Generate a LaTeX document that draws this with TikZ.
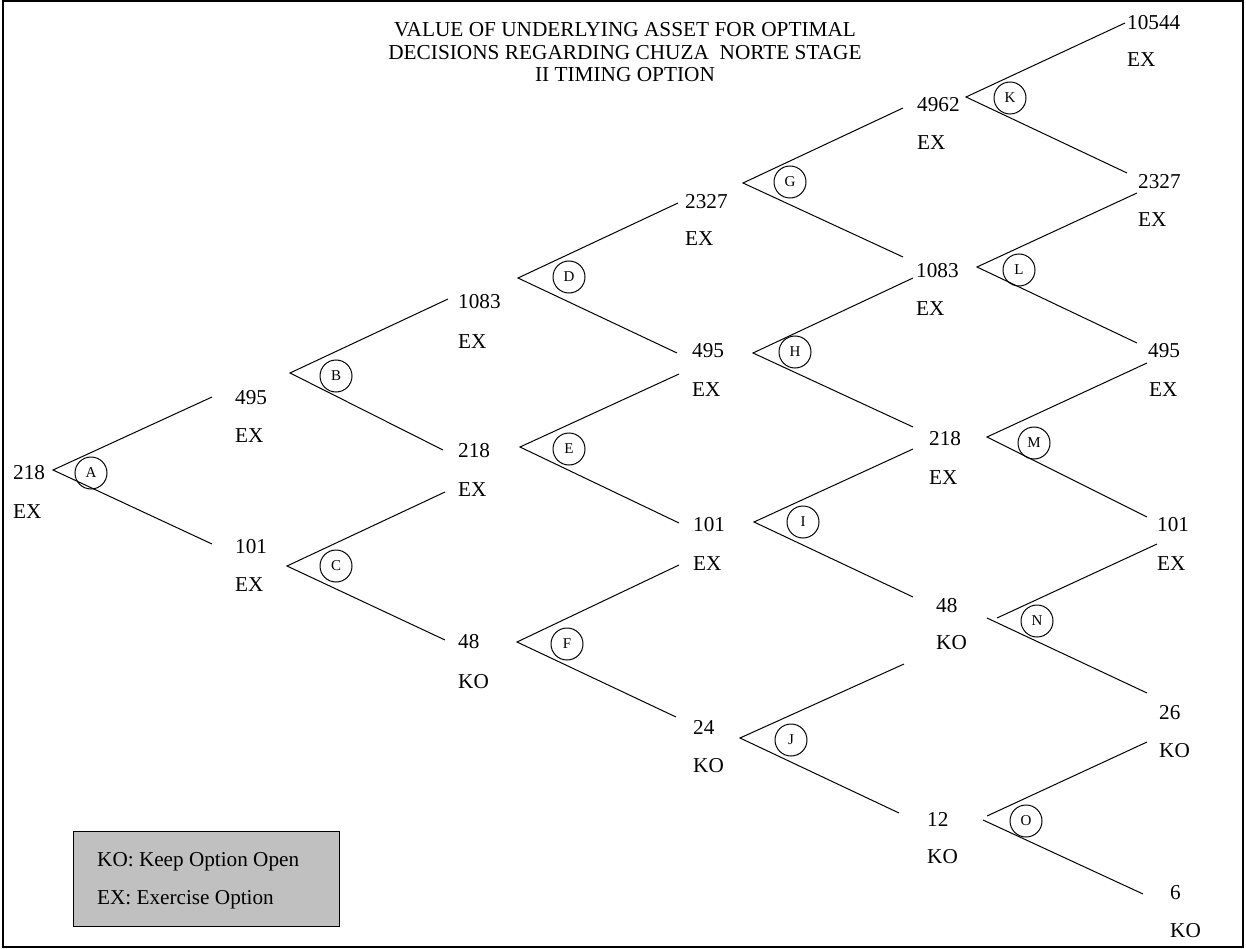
\documentclass[tikz,border=0pt]{standalone}
\usepackage{fontspec}
\setmainfont{Liberation Serif}
\definecolor{legendgray}{RGB}{192,192,192}
\tikzset{
  val/.style={anchor=west, inner sep=0pt, font=\fontsize{21.2}{24}\selectfont},
  br/.style={line width=1pt, draw=black},
  lett/.style={circle, draw, line width=1pt, minimum size=32pt, inner sep=0pt, font=\fontsize{15}{17}\selectfont},
}
\begin{document}
\begin{tikzpicture}[x=1pt,y=-1pt]
\useasboundingbox (0,0) rectangle (1246,949);
\draw[line width=1.2pt] (3,1) rectangle (1243,947);

% title
\node[inner sep=0pt, align=center, font=\fontsize{21.3}{22.5}\selectfont] (title) at (625,52.5)
  {VALUE OF UNDERLYING ASSET FOR OPTIMAL\\DECISIONS REGARDING CHUZA\ \ NORTE STAGE\\II TIMING OPTION};

% value labels
\node[val] (v0)  at (13,473) {218};   \node[val] (d0)  at (13,512) {EX};
\node[val] (v1a) at (235,398) {495};  \node[val] (d1a) at (235,436) {EX};
\node[val] (v1b) at (235,547) {101};  \node[val] (d1b) at (235,585) {EX};
\node[val] (v2a) at (458,302) {1083}; \node[val] (d2a) at (458,342) {EX};
\node[val] (v2b) at (458,451) {218};  \node[val] (d2b) at (458,490) {EX};
\node[val] (v2c) at (458,642) {48};   \node[val] (d2c) at (458,682) {KO};
\node[val] (v3a) at (685,202) {2327}; \node[val] (d3a) at (685,239) {EX};
\node[val] (v3b) at (692,351) {495};  \node[val] (d3b) at (692,390) {EX};
\node[val] (v3c) at (693,525) {101};  \node[val] (d3c) at (693,564) {EX};
\node[val] (v3d) at (693,727) {24};   \node[val] (d3d) at (693,766) {KO};
\node[val] (v4a) at (917,105) {4962}; \node[val] (d4a) at (917,143) {EX};
\node[val] (v4b) at (916,271) {1083}; \node[val] (d4b) at (916,309) {EX};
\node[val] (v4c) at (929,439) {218};  \node[val] (d4c) at (929,478) {EX};
\node[val] (v4d) at (936,606) {48};   \node[val] (d4d) at (936,643) {KO};
\node[val] (v4e) at (927,819) {12};   \node[val] (d4e) at (927,857) {KO};
\node[val] (v5a) at (1127,23) {10544};\node[val] (d5a) at (1127,60) {EX};
\node[val] (v5b) at (1138,182) {2327};\node[val] (d5b) at (1138,220) {EX};
\node[val] (v5c) at (1148,351) {495}; \node[val] (d5c) at (1149,390) {EX};
\node[val] (v5d) at (1157,525) {101}; \node[val] (d5d) at (1157,564) {EX};
\node[val] (v5e) at (1159,713) {26};  \node[val] (d5e) at (1159,751) {KO};
\node[val] (v5f) at (1170,893) {6};   \node[val] (d5f) at (1170,931) {KO};

% branch coordinates: apex, upper end, lower end
\coordinate (Aa) at (53,470);  \coordinate (Au) at (212,397);  \coordinate (Al) at (212,544);
\coordinate (Ba) at (290,373); \coordinate (Bu) at (448,299);  \coordinate (Bl) at (443,450);
\coordinate (Ca) at (287,566); \coordinate (Cu) at (445,492);  \coordinate (Cl) at (445,640);
\coordinate (Da) at (518,278); \coordinate (Du) at (678,203);  \coordinate (Dl) at (677,353);
\coordinate (Ea) at (520,447); \coordinate (Eu) at (679,374);  \coordinate (El) at (679,523);
\coordinate (Fa) at (517,642); \coordinate (Fu) at (679,565);  \coordinate (Fl) at (676,717);
\coordinate (Ga) at (743,183); \coordinate (Gu) at (903,108);  \coordinate (Gl) at (903,257);
\coordinate (Ha) at (753,353); \coordinate (Hu) at (913,278);  \coordinate (Hl) at (913,427);
\coordinate (Ia) at (754,522); \coordinate (Iu) at (913,449);  \coordinate (Il) at (913,597);
\coordinate (Ja) at (740,738); \coordinate (Ju) at (904,664);  \coordinate (Jl) at (899,813);
\coordinate (Ka) at (966,97);  \coordinate (Ku) at (1125,23);  \coordinate (Kl) at (1127,173);
\coordinate (La) at (977,267); \coordinate (Lu) at (1137,193); \coordinate (Ll) at (1137,343);
\coordinate (Ma) at (987,437); \coordinate (Mu) at (1147,363); \coordinate (Ml) at (1147,517);
\coordinate (Nau) at (997,618); \coordinate (Nal) at (987,618);
\coordinate (Nu) at (1157,544); \coordinate (Nl) at (1147,693);
\coordinate (Oau) at (987,816); \coordinate (Oal) at (983,820);
\coordinate (Ou) at (1147,742); \coordinate (Ol) at (1143,894);

\draw[br] (Au) -- (Aa) -- (Al);
\draw[br] (Bu) -- (Ba) -- (Bl);
\draw[br] (Cu) -- (Ca) -- (Cl);
\draw[br] (Du) -- (Da) -- (Dl);
\draw[br] (Eu) -- (Ea) -- (El);
\draw[br] (Fu) -- (Fa) -- (Fl);
\draw[br] (Gu) -- (Ga) -- (Gl);
\draw[br] (Hu) -- (Ha) -- (Hl);
\draw[br] (Iu) -- (Ia) -- (Il);
\draw[br] (Ju) -- (Ja) -- (Jl);
\draw[br] (Ku) -- (Ka) -- (Kl);
\draw[br] (Lu) -- (La) -- (Ll);
\draw[br] (Mu) -- (Ma) -- (Ml);
\draw[br] (Nau) -- (Nu);
\draw[br] (Nal) -- (Nl);
\draw[br] (Oau) -- (Ou);
\draw[br] (Oal) -- (Ol);

% decision letters
\node[lett] (cA) at (91,473) {A};
\node[lett] (cB) at (336,376) {B};
\node[lett] (cC) at (336,566) {C};
\node[lett] (cD) at (569,277) {D};
\node[lett] (cE) at (569,449) {E};
\node[lett] (cF) at (567,644) {F};
\node[lett] (cG) at (790,182) {G};
\node[lett] (cH) at (795,352) {H};
\node[lett] (cI) at (803,522) {I};
\node[lett] (cJ) at (791,740) {J};
\node[lett] (cK) at (1010,98) {K};
\node[lett] (cL) at (1019,270) {L};
\node[lett] (cM) at (1034,443) {M};
\node[lett] (cN) at (1037,621) {N};
\node[lett] (cO) at (1026,821) {O};

% legend
\node[draw, fill=legendgray, line width=1pt, anchor=north west, minimum width=266pt, minimum height=95pt, inner sep=0pt] (legend) at (73,831) {};
\node[val] (lg1) at (97,862) {KO: Keep Option Open};
\node[val] (lg2) at (97,900) {EX: Exercise Option};
\end{tikzpicture}
\end{document}
